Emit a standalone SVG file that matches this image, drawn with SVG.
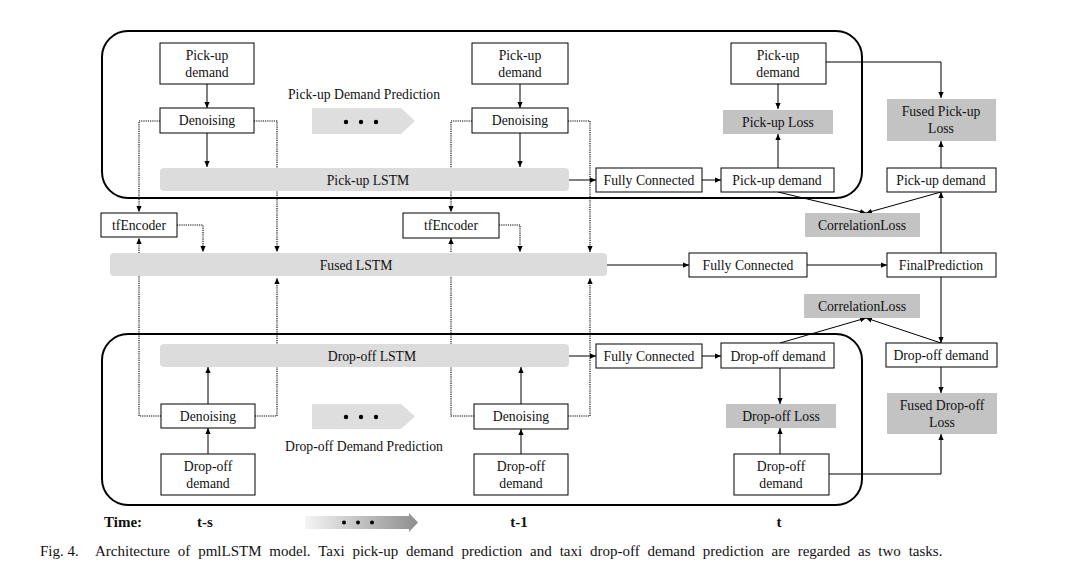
<svg xmlns="http://www.w3.org/2000/svg" width="1091" height="582" viewBox="0 0 1091 582">
<style>
text{font-family:"Liberation Serif","Times New Roman",serif;font-size:13.7px;fill:#111;}
.c{text-anchor:middle;}
.box{fill:#fff;stroke:#000;stroke-width:1;}
.loss{fill:#c3c3c3;stroke:none;}
.bar{fill:#dcdcdc;stroke:none;}
.cont{fill:none;stroke:#000;stroke-width:2;}
.ln{fill:none;stroke:#000;stroke-width:1;}
.dot{fill:none;stroke:#000;stroke-width:1.1;stroke-dasharray:1.2 1;}
.tm{font-weight:bold;font-size:15px;}
.cap{font-size:15px;}
</style>
<defs>
<marker id="ah" viewBox="0 0 8 8" refX="8" refY="4" markerWidth="6" markerHeight="6" orient="auto" markerUnits="userSpaceOnUse">
<path d="M0,0.5 L8,4 L0,7.5 Z" fill="#000"/>
</marker>
<linearGradient id="tg" x1="0" x2="1" y1="0" y2="0">
<stop offset="0" stop-color="#f4f4f4"/>
<stop offset="1" stop-color="#8e8e8e"/>
</linearGradient>
</defs>

<!-- containers -->
<rect class="cont" x="102" y="31" width="760" height="167" rx="26"/>
<rect class="cont" x="102" y="334" width="760" height="171" rx="26"/>

<g id="connectors">
<!-- top t-s -->
<line class="ln" x1="207" y1="84" x2="207" y2="108" marker-end="url(#ah)"/>
<line class="ln" x1="207" y1="133" x2="207" y2="167" marker-end="url(#ah)"/>
<polyline class="dot" points="160,121 139,121 139,212" marker-end="url(#ah)"/>
<polyline class="dot" points="254,121 277,121 277,252" marker-end="url(#ah)"/>
<!-- top t-1 -->
<line class="ln" x1="520" y1="84" x2="520" y2="108" marker-end="url(#ah)"/>
<line class="ln" x1="520" y1="133" x2="520" y2="167" marker-end="url(#ah)"/>
<polyline class="dot" points="472,121 451,121 451,212" marker-end="url(#ah)"/>
<polyline class="dot" points="568,121 590,121 590,252" marker-end="url(#ah)"/>
<!-- top t -->
<line class="ln" x1="569" y1="180" x2="596" y2="180" marker-end="url(#ah)"/>
<line class="ln" x1="702" y1="180" x2="721" y2="180" marker-end="url(#ah)"/>
<line class="ln" x1="778" y1="84" x2="778" y2="109" marker-end="url(#ah)"/>
<line class="ln" x1="778" y1="168" x2="778" y2="134" marker-end="url(#ah)"/>
<polyline class="ln" points="826,62 941,62 941,98" marker-end="url(#ah)"/>
<line class="ln" x1="941" y1="168" x2="941" y2="141" marker-end="url(#ah)"/>
<line class="ln" x1="778" y1="192" x2="866" y2="213" marker-end="url(#ah)"/>
<line class="ln" x1="941" y1="192" x2="866" y2="213" marker-end="url(#ah)"/>
<line class="ln" x1="941" y1="253" x2="941" y2="192" marker-end="url(#ah)"/>
<!-- tfEncoder -->
<polyline class="dot" points="177,225 203,225 203,252" marker-end="url(#ah)"/>
<polyline class="dot" points="499,225 520,225 520,252" marker-end="url(#ah)"/>
<!-- middle -->
<line class="ln" x1="607" y1="265" x2="689" y2="265" marker-end="url(#ah)"/>
<line class="ln" x1="807" y1="265" x2="887" y2="265" marker-end="url(#ah)"/>
<line class="ln" x1="941" y1="277" x2="941" y2="343" marker-end="url(#ah)"/>
<line class="ln" x1="780" y1="343" x2="866" y2="318" marker-end="url(#ah)"/>
<line class="ln" x1="941" y1="343" x2="866" y2="318" marker-end="url(#ah)"/>
<!-- bottom t-s -->
<line class="ln" x1="208" y1="454" x2="208" y2="428" marker-end="url(#ah)"/>
<line class="ln" x1="208" y1="404" x2="208" y2="367" marker-end="url(#ah)"/>
<polyline class="dot" points="161,416 139,416 139,238" marker-end="url(#ah)"/>
<polyline class="dot" points="255,416 277,416 277,278" marker-end="url(#ah)"/>
<!-- bottom t-1 -->
<line class="ln" x1="521" y1="454" x2="521" y2="429" marker-end="url(#ah)"/>
<line class="ln" x1="521" y1="404" x2="521" y2="367" marker-end="url(#ah)"/>
<polyline class="dot" points="474,416 451,416 451,238" marker-end="url(#ah)"/>
<polyline class="dot" points="568,416 590,416 590,278" marker-end="url(#ah)"/>
<!-- bottom t -->
<line class="ln" x1="569" y1="356" x2="596" y2="356" marker-end="url(#ah)"/>
<line class="ln" x1="702" y1="356" x2="721" y2="356" marker-end="url(#ah)"/>
<line class="ln" x1="780" y1="368" x2="780" y2="404" marker-end="url(#ah)"/>
<line class="ln" x1="780" y1="454" x2="780" y2="428" marker-end="url(#ah)"/>
<polyline class="ln" points="829,474 941,474 941,434" marker-end="url(#ah)"/>
<line class="ln" x1="941" y1="367" x2="941" y2="393" marker-end="url(#ah)"/>
</g>

<!-- top row t-s -->
<g id="pickup-demand-ts"><rect class="box" x="160" y="43" width="94" height="41"/><text class="c" x="207" y="60">Pick-up</text><text class="c" x="207" y="77">demand</text></g>
<g id="denoising-top-ts"><rect class="box" x="160" y="108" width="94" height="25"/><text class="c" x="207" y="125">Denoising</text></g>
<g id="pickup-lstm"><rect class="bar" x="160" y="168" width="409" height="23" rx="4"/><text class="c" x="368" y="185">Pick-up LSTM</text></g>
<g id="pickup-label"><text x="288" y="99">Pick-up Demand Prediction</text></g>
<g id="chevron-top"><path d="M312,108 L401,108 L415,121 L401,134 L312,134 Z" fill="#dedede"/><circle cx="346" cy="122" r="2.2" fill="#000"/><circle cx="361" cy="122" r="2.2" fill="#000"/><circle cx="376" cy="122" r="2.2" fill="#000"/></g>
<!-- top row t-1 -->
<g id="pickup-demand-t1"><rect class="box" x="472" y="43" width="96" height="41"/><text class="c" x="520" y="60">Pick-up</text><text class="c" x="520" y="77">demand</text></g>
<g id="denoising-top-t1"><rect class="box" x="472" y="108" width="96" height="25"/><text class="c" x="520" y="125">Denoising</text></g>
<!-- top row t -->
<g id="fc-top"><rect class="box" x="596" y="168" width="106" height="24"/><text class="c" x="649" y="185">Fully Connected</text></g>
<g id="pickup-pred"><rect class="box" x="721" y="168" width="113" height="24"/><text class="c" x="777" y="185">Pick-up demand</text></g>
<g id="pickup-demand-t"><rect class="box" x="731" y="43" width="95" height="41"/><text class="c" x="778" y="60">Pick-up</text><text class="c" x="778" y="77">demand</text></g>
<g id="pickup-loss"><rect class="loss" x="723" y="110" width="110" height="24"/><text class="c" x="778" y="127">Pick-up Loss</text></g>
<g id="fused-pickup-loss"><rect class="loss" x="887" y="99" width="109" height="42"/><text class="c" x="941" y="116">Fused Pick-up</text><text class="c" x="941" y="133">Loss</text></g>
<g id="pickup-right"><rect class="box" x="887" y="168" width="109" height="24"/><text class="c" x="941" y="185">Pick-up demand</text></g>
<g id="corr-top"><rect class="loss" x="805" y="213" width="115" height="24"/><text class="c" x="862" y="230">CorrelationLoss</text></g>
<!-- middle -->
<g id="tfencoder-ts"><rect class="box" x="101" y="213" width="76" height="24"/><text class="c" x="139" y="230">tfEncoder</text></g>
<g id="tfencoder-t1"><rect class="box" x="403" y="213" width="96" height="25"/><text class="c" x="451" y="230">tfEncoder</text></g>
<g id="fused-lstm"><rect class="bar" x="110" y="253" width="497" height="23" rx="4"/><text class="c" x="356" y="270">Fused LSTM</text></g>
<g id="fc-mid"><rect class="box" x="689" y="253" width="118" height="24"/><text class="c" x="748" y="270">Fully Connected</text></g>
<g id="final-pred"><rect class="box" x="887" y="253" width="109" height="24"/><text class="c" x="941" y="270">FinalPrediction</text></g>
<g id="corr-bottom"><rect class="loss" x="804" y="294" width="116" height="24"/><text class="c" x="862" y="311">CorrelationLoss</text></g>
<!-- bottom t -->
<g id="dropoff-lstm"><rect class="bar" x="160" y="344" width="409" height="23" rx="4"/><text class="c" x="372" y="361">Drop-off LSTM</text></g>
<g id="fc-bottom"><rect class="box" x="596" y="344" width="106" height="24"/><text class="c" x="649" y="361">Fully Connected</text></g>
<g id="dropoff-pred"><rect class="box" x="721" y="343" width="113" height="25"/><text class="c" x="778" y="361">Drop-off demand</text></g>
<g id="dropoff-loss"><rect class="loss" x="726" y="404" width="110" height="24"/><text class="c" x="781" y="421">Drop-off Loss</text></g>
<g id="dropoff-demand-t"><rect class="box" x="734" y="454" width="95" height="41"/><text class="c" x="781" y="471">Drop-off</text><text class="c" x="781" y="488">demand</text></g>
<g id="dropoff-right"><rect class="box" x="886" y="343" width="111" height="24"/><text class="c" x="941" y="360">Drop-off demand</text></g>
<g id="fused-dropoff-loss"><rect class="loss" x="887" y="393" width="110" height="41"/><text class="c" x="942" y="410">Fused Drop-off</text><text class="c" x="942" y="427">Loss</text></g>
<!-- bottom t-s -->
<g id="denoising-bot-ts"><rect class="box" x="161" y="404" width="94" height="24"/><text class="c" x="208" y="421">Denoising</text></g>
<g id="dropoff-demand-ts"><rect class="box" x="161" y="454" width="94" height="41"/><text class="c" x="208" y="471">Drop-off</text><text class="c" x="208" y="488">demand</text></g>
<g id="chevron-bottom"><path d="M312,404 L401,404 L415,416.5 L401,429 L312,429 Z" fill="#dedede"/><circle cx="346" cy="417" r="2.2" fill="#000"/><circle cx="361" cy="417" r="2.2" fill="#000"/><circle cx="376" cy="417" r="2.2" fill="#000"/></g>
<g id="dropoff-label"><text x="285" y="451">Drop-off Demand Prediction</text></g>
<!-- bottom t-1 -->
<g id="denoising-bot-t1"><rect class="box" x="474" y="404" width="94" height="25"/><text class="c" x="521" y="421">Denoising</text></g>
<g id="dropoff-demand-t1"><rect class="box" x="474" y="454" width="94" height="41"/><text class="c" x="521" y="471">Drop-off</text><text class="c" x="521" y="488">demand</text></g>

<!-- time row -->
<g id="time-row">
<text class="tm" x="104" y="527">Time:</text>
<text class="tm c" x="205" y="527">t-s</text>
<path d="M305,516 L409,516 L409,513 L418,522.5 L409,532 L409,529 L305,529 Z" fill="url(#tg)"/>
<circle cx="344" cy="522.5" r="2" fill="#000"/><circle cx="358" cy="522.5" r="2" fill="#000"/><circle cx="372" cy="522.5" r="2" fill="#000"/>
<text class="tm c" x="519" y="527">t-1</text>
<text class="tm c" x="779" y="527">t</text>
</g>
<text class="cap" x="40" y="556">Fig. 4.</text>
<text class="cap" x="95" y="556" word-spacing="4.1">Architecture of pmlLSTM model. Taxi pick-up demand prediction and taxi drop-off demand prediction are regarded as two tasks.</text>
</svg>
